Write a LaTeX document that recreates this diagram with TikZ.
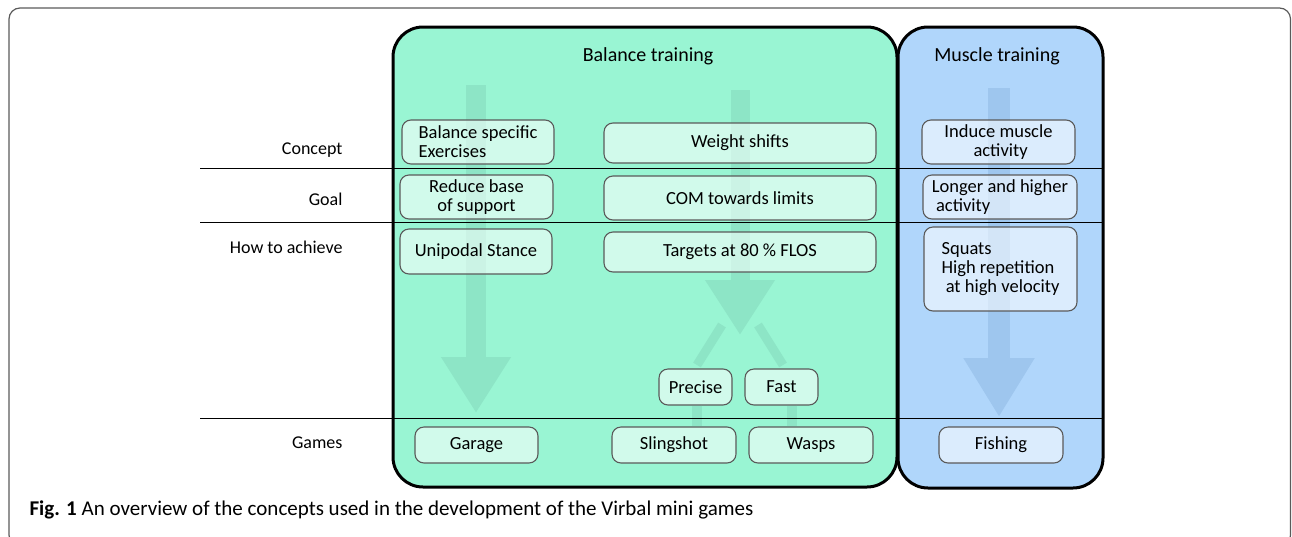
\documentclass[tikz,border=0pt]{standalone}
\usepackage{fontspec}
\setmainfont{Carlito}
\usepackage{tikz}
\usetikzlibrary{arrows.meta,positioning,calc}
\definecolor{balbg}{HTML}{99F5D3}
\definecolor{musbg}{HTML}{B0D6FB}
\definecolor{balarr}{HTML}{8DE5C6}
\definecolor{musarr}{HTML}{9EC6EE}
\definecolor{boxln}{HTML}{5A5A5A}

\begin{document}
\begin{tikzpicture}[x=1pt, y=-1pt,
  gbox/.style={draw=boxln, line width=1.1pt, rounded corners=9pt, fill=white, fill opacity=0.55, text opacity=1,
               inner sep=0pt, align=center, font=\fontsize{18.5}{19}\selectfont},
  bbox/.style={gbox},
  lbl/.style={font=\fontsize{18}{20}\selectfont, anchor=east},
  ttl/.style={font=\fontsize{20}{22}\selectfont},
  bigarr/.style={line width=20pt, -{Triangle[length=56pt, width=66pt]}},
  brn/.style={line width=9pt, balarr},
  sep/.style={line width=1pt, black}]

\useasboundingbox (0,0) rectangle (1292,536);
\begin{scope}
\clip (0,0) rectangle (1292,536);
\draw[boxln, line width=1.2pt, rounded corners=11pt] (9,8) rectangle (1290.5,546);
\end{scope}

%% ── panels ────────────────────────────────────────────────
\draw[fill=balbg, line width=3pt, rounded corners=30pt] (393,27) rectangle (897,487);
\draw[fill=musbg, line width=3pt, rounded corners=30pt] (898,27) rectangle (1103,488);
\node[ttl] (baltitle) at (648,56) {Balance training};
\node[ttl] (mustitle) at (997,56) {Muscle training};

%% ── faint arrows ──────────────────────────────────────────
\coordinate (g0) at (476,85);   \coordinate (g1) at (476,413);
\coordinate (m0) at (740,90);   \coordinate (m1) at (740,335);
\coordinate (b0) at (999,88);   \coordinate (b1) at (999,417);
\draw[bigarr, balarr] (g0) -- (g1);
\draw[bigarr, balarr, line width=19pt, -{Triangle[length=55pt, width=66pt]}] (m0) -- (m1);
\draw[bigarr, musarr, line width=22pt, -{Triangle[length=59pt, width=67pt]}] (b0) -- (b1);
\coordinate (pl0) at (722,325); \coordinate (pl1) at (697,365);
\coordinate (fr0) at (758,325); \coordinate (fr1) at (783,365);
\draw[brn] (pl0) -- (pl1);
\draw[brn] (fr0) -- (fr1);

%% ── concept / goal / how boxes ────────────────────────────
\node[gbox, minimum width=152pt, minimum height=44pt, align=left] (bse) at (478,142) {Balance specific\\Exercises};
\node[gbox, minimum width=272pt, minimum height=40pt] (ws)  at (740,143) {Weight shifts};
\node[gbox, minimum width=153pt, minimum height=44pt] (rbs) at (476.5,197) {Reduce base\\of support};
\node[gbox, minimum width=272pt, minimum height=44pt] (com) at (740,198) {COM towards limits};
\node[gbox, minimum width=152pt, minimum height=45pt] (uni) at (476,251.5) {Unipodal Stance};
\node[gbox, minimum width=272pt, minimum height=40pt] (tgt) at (740,252) {Targets at 80 \% FLOS};
\node[gbox, minimum width=73pt, minimum height=36pt] (prc) at (695.5,387) {Precise};
\node[gbox, minimum width=73pt, minimum height=36pt] (fst) at (781.5,387) {Fast};

\node[bbox, minimum width=153pt, minimum height=44pt] (ima) at (998.5,142) {Induce muscle\\\ activity};
\node[bbox, minimum width=154pt, minimum height=44pt, align=left] (lha) at (1000,197) {Longer and higher\\\ activity};
\node[bbox, minimum width=153pt, minimum height=84pt, align=left] (sqt) at (1000.5,269) {Squats\\High repetition\\\ at high velocity};

%% ── games ─────────────────────────────────────────────────
\node[gbox, minimum width=123pt, minimum height=36pt] (gar) at (476.5,445) {Garage};
\node[gbox, minimum width=124pt, minimum height=36pt] (sls) at (674,445) {Slingshot};
\node[gbox, minimum width=124pt, minimum height=36pt] (wsp) at (811,445) {Wasps};
\node[bbox, minimum width=124pt, minimum height=36pt] (fsh) at (1001,445) {Fishing};
\draw[brn, line width=10pt] (prc.south -| pl1) -- (sls.north -| pl1);
\draw[brn, line width=10pt] (fst.south -| 792,0) -- (wsp.north -| 792,0);

%% ── rows ──────────────────────────────────────────────────
\foreach \y in {168,222,418}{\draw[sep] (200,\y) -- (1103,\y);}
\node[lbl] (rcon) at (346,150) {Concept};
\node[lbl] (rgoa) at (346,199) {Goal};
\node[lbl] (rhow) at (346,247) {How to achieve};
\node[lbl] (rgam) at (346,443) {Games};

\node[anchor=base west, font=\fontsize{21}{23}\selectfont] (cap) at (26,515)
  {\textbf{Fig. 1} An overview of the concepts used in the development of the Virbal mini games};
\end{tikzpicture}
\end{document}
